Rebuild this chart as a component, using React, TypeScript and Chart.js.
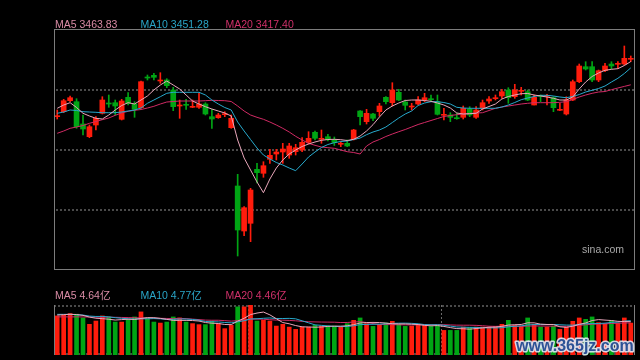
import { useEffect, useRef } from "react";
import { Chart, registerables } from "chart.js";

Chart.register(...registerables);

// ---------- data ----------
const opens = [3353.6,3363.6,3385.6,3383.6,3339,3313.6,3337,3360.4,3381,3381.6,
3348.4,3392.4,3379,3371.6,3432.4,3436.4,3425,3427,3407,3375,
3377.6,3372.4,3372.4,3379,3353.6,3351.6,3357.6,3331.6,3215,3125,
3140.4,3248.4,3240.4,3268.4,3279,3283,3277,3283.6,3287,3302.4,
3322.4,3308.4,3313.6,3307,3298.4,3300.4,3308.4,3365,3343.6,3359,
3363.6,3392.4,3381.6,3402.4,3383,3373,3379,3387,3389,3383.6,
3356.4,3357,3351,3352.4,3368.4,3352.4,3370.4,3385,3389.6,3395,
3407,3393.6,3404.4,3403.6,3377,3395.6,3394.4,3391.6,3366.4,3359,
3387,3423.6,3453.6,3453.6,3427,3445.6,3459,3458.4,3459,3468.4];

const highs = [3367,3388.4,3395,3389.6,3357,3337,3353.6,3393.6,3397,3387,
3388.4,3401.6,3383.6,3425,3437,3440.4,3441.6,3429.6,3412.4,3387,
3388.4,3387,3400.4,3381.6,3368.4,3360.4,3363.6,3357,3238.4,3173.6,
3210.4,3260.4,3263.6,3288.4,3288.4,3300.4,3300.4,3298.4,3311.6,3323.6,
3325,3327,3318.4,3313,3303.6,3307,3328.4,3365.6,3368.4,3360.4,
3380.4,3393.6,3421.6,3408.4,3387,3380.4,3393.6,3400.4,3397,3397,
3370.4,3361.6,3360.4,3375,3373.6,3373.6,3387,3393.6,3397,3408.4,
3411.6,3418.4,3412.4,3407,3397,3397,3398.4,3393.6,3380.4,3393.6,
3427,3459,3463.6,3463.6,3447,3460.4,3463.6,3463.6,3495,3475];

const lows = [3349,3361.6,3383.6,3330.4,3317,3311.6,3327,3359,3372.4,3357,
3347,3377,3352.4,3370.4,3427,3427,3420.4,3411.6,3365.6,3350.4,
3368.4,3371.6,3370.4,3357,3330.4,3350.4,3353.6,3330.4,3075,3115.6,
3103.6,3221,3232.4,3260.4,3267,3260.4,3270.4,3277,3283.6,3299,
3307,3300.4,3305,3296,3293.6,3293.6,3307,3337,3339,3345.6,
3355,3379,3375,3385.6,3367,3367,3377,3383.6,3383.6,3357,
3347,3343.6,3348.4,3349,3353.6,3350.4,3367,3380.4,3387,3390.4,
3380.4,3390.4,3397,3385.6,3377,3383.6,3377,3363.6,3365.6,3357,
3385.6,3421.6,3447,3423.6,3423.6,3443.6,3449,3450.4,3457,3463.6];

const closes = [3354.4,3385.6,3391.6,3333.6,3329,3333.6,3350.4,3387,3379,3375,
3385,3380.4,3368.4,3423.6,3431,3432.4,3425.6,3415.6,3373.6,3375.6,
3376.4,3373,3379,3359,3349,3357,3359,3350.4,3127,3171.6,
3207,3241.6,3255.6,3276.4,3283,3289,3295,3291.6,3302.4,3310.4,
3310.4,3309,3308,3302,3299,3295,3327,3353.6,3360.4,3350.4,
3375,3383.6,3407,3387,3376.4,3374.4,3387,3391.6,3387.6,3358.4,
3357.6,3352.4,3349.6,3370.4,3357,3367,3381.6,3389,3391,3403.6,
3391.6,3407,3405.6,3387,3392.4,3394.4,3395.6,3371.6,3367,3387,
3423.6,3455,3449,3427,3445.6,3455,3455,3459.6,3470.4,3469.6];

const ma5 = [3370.4,3377,3381.6,3372,3360.4,3355,3350.4,3349,3357,3367,
3376,3381.6,3379,3387,3395,3407,3417,3425,3417,3409,
3397,3385,3379,3373.6,3369,3365,3361,3355,3307,3271,
3247,3223,3201.6,3229,3251,3267,3279,3287,3294,3299,
3303,3306.4,3308,3308.4,3307.6,3306,3308.4,3315,3325,3337.6,
3353,3367,3375,3381,3386,3387,3387,3386,3384.4,3381,
3377,3371,3361,3359,3359.6,3360.4,3369,3374,3379,3389,
3394,3397,3399.6,3400,3397,3395,3393,3390.4,3387,3387,
3393,3409,3423,3434,3441,3446.4,3448.4,3449.6,3456,3463.83];

const ma10 = [3360.4,3363,3367,3366,3363.6,3363,3362.4,3361.6,3361.6,3361.6,
3363,3365,3367,3371,3380.4,3387,3393.6,3400.4,3402.4,3402.4,
3402.4,3402.4,3402.4,3397,3387,3379,3372,3367,3343,3325,
3308,3291,3277,3269,3262,3257,3251,3245.6,3259,3273,
3283,3292,3298,3301.6,3304,3305,3308,3311,3317.6,3323,
3327,3333,3342,3351,3359,3365,3376,3381,3383.6,3383.6,
3382,3379,3372.4,3371,3370.4,3370.4,3370.4,3370.4,3370.4,3373,
3377,3382,3387.6,3391,3394,3396.4,3396.4,3395,3393,3391.6,
3394,3398,3403,3406.4,3410,3415,3423,3430.4,3440,3451.28];

const ma20 = [3320.4,3325,3330.4,3333,3336,3340.4,3344,3347.6,3351,3356.4,
3361,3364.4,3366.4,3368,3371,3374.4,3379,3383,3384,3385,
3385,3385,3385,3385.6,3386.4,3386,3385.6,3384,3375,3365,
3357,3352.4,3348.4,3343,3337,3330.4,3323,3314.4,3307,3300.4,
3296.4,3293,3291.6,3290.4,3287,3283.6,3282,3279,3295,3303,
3308,3314,3319,3323.6,3328,3333,3338,3342,3346,3350,
3354,3356,3357.6,3359,3360,3361,3361.6,3366,3370.4,3373,
3375,3377,3379,3380.4,3381.6,3381.6,3381.6,3381.6,3382.4,3383.6,
3388,3393,3397,3400.4,3403,3404,3407.6,3411,3414.2,3417.4];

// volume, in 亿
const volumes = [5.43,5.53,5.76,5.67,5.15,4.26,4.72,5.43,5.29,4.58,
4.58,4.96,5.29,5.99,5.15,4.58,4.44,4.58,5.29,5.15,
4.58,4.36,4.22,4.22,4.72,4.36,3.66,4.12,6.69,6.69,
6.93,4.72,4.82,4.72,4.02,4.26,3.88,3.56,3.88,3.88,
4.12,4.02,4.02,4.02,3.88,4.36,4.82,5.15,4.36,3.98,
4.26,4.44,4.68,4.26,3.98,4.02,4.22,4.12,3.98,4.12,
3.42,3.42,3.42,3.88,3.80,3.88,3.88,3.88,3.98,4.26,
4.82,4.12,4.02,5.15,4.26,3.88,3.88,4.02,3.56,3.88,
4.68,5.15,4.96,5.29,4.50,4.36,4.82,4.44,5.15,4.44];

const volMa5 = [5.55,5.6,5.66,5.62,5.51,5.27,5.11,5.05,4.97,4.86,
4.92,4.97,4.94,5.08,5.19,5.19,5.09,4.95,4.81,4.81,
4.81,4.79,4.72,4.51,4.42,4.38,4.24,4.22,4.71,5.10,
5.62,5.83,5.97,5.58,5.04,4.51,4.34,4.09,3.92,3.89,
3.86,3.89,3.98,4.01,4.01,4.06,4.22,4.45,4.51,4.53,
4.51,4.44,4.34,4.32,4.32,4.28,4.23,4.12,4.06,4.09,
3.97,3.81,3.67,3.65,3.59,3.68,3.77,3.86,3.88,3.98,
4.16,4.21,4.24,4.47,4.47,4.29,4.24,4.24,3.92,3.84,
4.00,4.26,4.45,4.79,4.92,4.85,4.79,4.68,4.65,4.64];

const volMa10 = [5.65,5.65,5.65,5.6,5.55,5.41,5.36,5.36,5.30,5.19,
5.10,5.04,5.00,5.03,5.03,5.06,5.03,4.95,4.95,5.00,
5.00,4.94,4.84,4.66,4.62,4.60,4.52,4.47,4.61,4.76,
5.00,5.04,5.10,5.15,5.07,5.07,5.09,5.03,4.75,4.47,
4.19,4.12,4.04,3.97,3.95,3.96,4.06,4.22,4.26,4.27,
4.29,4.33,4.40,4.42,4.43,4.40,4.34,4.23,4.19,4.21,
4.13,4.02,3.90,3.86,3.84,3.83,3.79,3.77,3.77,3.79,
3.92,3.99,4.05,4.18,4.23,4.23,4.23,4.24,4.20,4.16,
4.15,4.25,4.35,4.36,4.38,4.43,4.53,4.57,4.72,4.77];

const volMa20 = [5.3,5.3,5.3,5.3,5.29,5.28,5.27,5.26,5.25,5.24,
5.22,5.2,5.18,5.16,5.14,5.12,5.1,5.08,5.06,5.10,
5.05,4.99,4.92,4.85,4.83,4.83,4.78,4.71,4.78,4.88,
5.00,4.99,4.97,4.91,4.85,4.84,4.81,4.75,4.68,4.62,
4.60,4.58,4.57,4.56,4.51,4.52,4.58,4.63,4.51,4.37,
4.24,4.23,4.22,4.20,4.19,4.18,4.20,4.23,4.23,4.24,
4.21,4.18,4.15,4.14,4.14,4.12,4.07,4.00,3.98,4.00,
4.03,4.01,3.98,4.02,4.04,4.03,4.01,4.01,3.99,3.98,
4.04,4.12,4.20,4.27,4.31,4.33,4.38,4.41,4.46,4.46];

const categories = opens.map((_, i) => `${i + 1}`);
const priceGridValues = [3169, 3289, 3409];
const priceMin = 3049;
const priceMax = 3529;
const volumeMax = 6.95;
const volumeSeparators = [30, 60];
const priceLegend = ["MA5 3463.83", "MA10 3451.28", "MA20 3417.40"];
const volumeLegend = ["MA5 4.64亿", "MA10 4.77亿", "MA20 4.46亿"];
const sourceText = "sina.com";
const watermarkText = "www.365jz.com";

// ---------- styles ----------
const RED = "#ff1c0c";
const GREEN = "#00a514";
const LINE_COLORS = ["#e8a6ba", "#27a9cc", "#d02a64"];
const TEXT_COLORS = ["#d98ba5", "#2aa6c8", "#d0306a"];
const FRAME = "#7c7c7c";
const GRID = "#4a4a4a";
const FONT = '10.5px "Liberation Sans", Arial, "Noto Sans CJK SC", sans-serif';
const LEGEND_X = [55, 140.5, 225.5];

const candleColors = closes.map((c, i) => (c >= opens[i] ? RED : GREEN));

function drawDotted(
  ctx: CanvasRenderingContext2D,
  x1: number,
  y1: number,
  x2: number,
  y2: number,
  width = 2,
  color = GRID
) {
  ctx.save();
  ctx.strokeStyle = color;
  ctx.lineWidth = width;
  ctx.setLineDash([2, 2]);
  ctx.beginPath();
  ctx.moveTo(x1, y1);
  ctx.lineTo(x2, y2);
  ctx.stroke();
  ctx.restore();
}

function lineDs(label: string, data: number[], color: string, order: number) {
  return {
    type: "line" as const,
    label,
    data,
    borderColor: color,
    borderWidth: 1,
    pointRadius: 0,
    tension: 0,
    fill: false,
    order,
  };
}

export default function App() {
  const priceRef = useRef<HTMLCanvasElement>(null);
  const volRef = useRef<HTMLCanvasElement>(null);

  useEffect(() => {
    const pricePlugin = {
      id: "priceDecor",
      beforeDatasetsDraw(chart: any) {
        const { ctx, chartArea: a, scales } = chart;
        priceGridValues.forEach((v) => {
          const py = Math.round(scales.y.getPixelForValue(v)) + 1;
          drawDotted(ctx, a.left + 2, py, a.right, py);
        });
      },
      afterDraw(chart: any) {
        const { ctx, chartArea: a } = chart;
        ctx.save();
        ctx.strokeStyle = FRAME;
        ctx.lineWidth = 1;
        ctx.strokeRect(a.left + 0.5, a.top + 0.5, a.right - a.left, a.bottom - a.top);
        ctx.font = FONT;
        ctx.textBaseline = "alphabetic";
        priceLegend.forEach((t, i) => {
          ctx.fillStyle = TEXT_COLORS[i];
          ctx.fillText(t, LEGEND_X[i], a.top - 1);
        });
        ctx.fillStyle = "#a8a8a8";
        ctx.fillText(sourceText, 582, a.bottom - 16);
        ctx.restore();
      },
    };

    const volPlugin = {
      id: "volDecor",
      beforeDatasetsDraw(chart: any) {
        const { ctx, chartArea: a, scales } = chart;
        drawDotted(ctx, a.left, a.top + 1, a.right, a.top + 1);
        drawDotted(ctx, a.left, a.bottom - 1, a.right, a.bottom - 1);
        volumeSeparators.forEach((idx) => {
          const px = (scales.x.getPixelForValue(idx - 1) + scales.x.getPixelForValue(idx)) / 2;
          const sx = Math.ceil(px) + 0.5;
          drawDotted(ctx, sx, a.top, sx, a.bottom, 1, "#6a6a6a");
        });
      },
      afterDraw(chart: any) {
        const { ctx, chartArea: a } = chart;
        ctx.save();
        ctx.strokeStyle = FRAME;
        ctx.lineWidth = 1;
        ctx.beginPath();
        ctx.moveTo(a.left + 0.5, a.top);
        ctx.lineTo(a.left + 0.5, a.bottom);
        ctx.moveTo(a.right + 0.5, a.top);
        ctx.lineTo(a.right + 0.5, a.bottom);
        ctx.stroke();
        ctx.font = FONT;
        ctx.textBaseline = "alphabetic";
        volumeLegend.forEach((t, i) => {
          ctx.fillStyle = TEXT_COLORS[i];
          ctx.fillText(t, LEGEND_X[i], a.top - 6.5);
        });
        ctx.font = 'bold 16px "Liberation Sans", Arial, sans-serif';
        ctx.lineJoin = "round";
        ctx.lineWidth = 3;
        ctx.strokeStyle = "rgba(225,233,245,0.9)";
        ctx.strokeText(watermarkText, 516, a.bottom - 4);
        ctx.fillStyle = "#2d5296";
        ctx.fillText(watermarkText, 516, a.bottom - 4);
        ctx.restore();
      },
    };

    const priceChart = new Chart(priceRef.current as HTMLCanvasElement, {
      type: "bar",
      data: {
        labels: categories,
        datasets: [
          lineDs("MA5", ma5, LINE_COLORS[0], 0) as any,
          lineDs("MA10", ma10, LINE_COLORS[1], 1) as any,
          lineDs("MA20", ma20, LINE_COLORS[2], 2) as any,
          {
            type: "bar",
            label: "body",
            data: opens.map((o, i) => [o, closes[i]]),
            backgroundColor: candleColors,
            barThickness: 5,
            minBarLength: 1,
            grouped: false,
            borderWidth: 0,
            order: 3,
          } as any,
          {
            type: "bar",
            label: "wick",
            data: lows.map((l, i) => [l, highs[i]]),
            backgroundColor: candleColors,
            barThickness: 1,
            grouped: false,
            borderWidth: 0,
            order: 4,
          } as any,
        ],
      },
      options: {
        responsive: false,
        animation: false,
        layout: { padding: { left: 54, right: 6, top: 29, bottom: 11 } },
        plugins: { legend: { display: false }, tooltip: { enabled: false } },
        scales: {
          x: { type: "category", display: false, offset: true, grid: { display: false } },
          y: { type: "linear", display: false, min: priceMin, max: priceMax },
        },
      },
      plugins: [pricePlugin],
    });

    const volChart = new Chart(volRef.current as HTMLCanvasElement, {
      type: "bar",
      data: {
        labels: categories,
        datasets: [
          lineDs("MA5", volMa5, LINE_COLORS[0], 0) as any,
          lineDs("MA10", volMa10, LINE_COLORS[1], 1) as any,
          lineDs("MA20", volMa20, LINE_COLORS[2], 2) as any,
          {
            type: "bar",
            label: "volume",
            data: volumes,
            backgroundColor: candleColors,
            barThickness: 4,
            grouped: false,
            borderWidth: 0,
            order: 3,
          } as any,
        ],
      },
      options: {
        responsive: false,
        animation: false,
        layout: { padding: { left: 54, right: 6, top: 25, bottom: 5 } },
        plugins: { legend: { display: false }, tooltip: { enabled: false } },
        scales: {
          x: { type: "category", display: false, offset: true, grid: { display: false } },
          y: { type: "linear", display: false, min: 0, max: volumeMax },
        },
      },
      plugins: [volPlugin],
    });

    return () => {
      priceChart.destroy();
      volChart.destroy();
    };
  }, []);

  return (
    <div
      style={{
        position: "fixed",
        left: 0,
        top: 0,
        width: 640,
        height: 360,
        background: "#000",
        overflow: "hidden",
      }}
    >
      <canvas
        ref={priceRef}
        width={640}
        height={280}
        style={{ position: "absolute", left: 0, top: 0, width: 640, height: 280 }}
      />
      <canvas
        ref={volRef}
        width={640}
        height={80}
        style={{ position: "absolute", left: 0, top: 280, width: 640, height: 80 }}
      />
    </div>
  );
}
